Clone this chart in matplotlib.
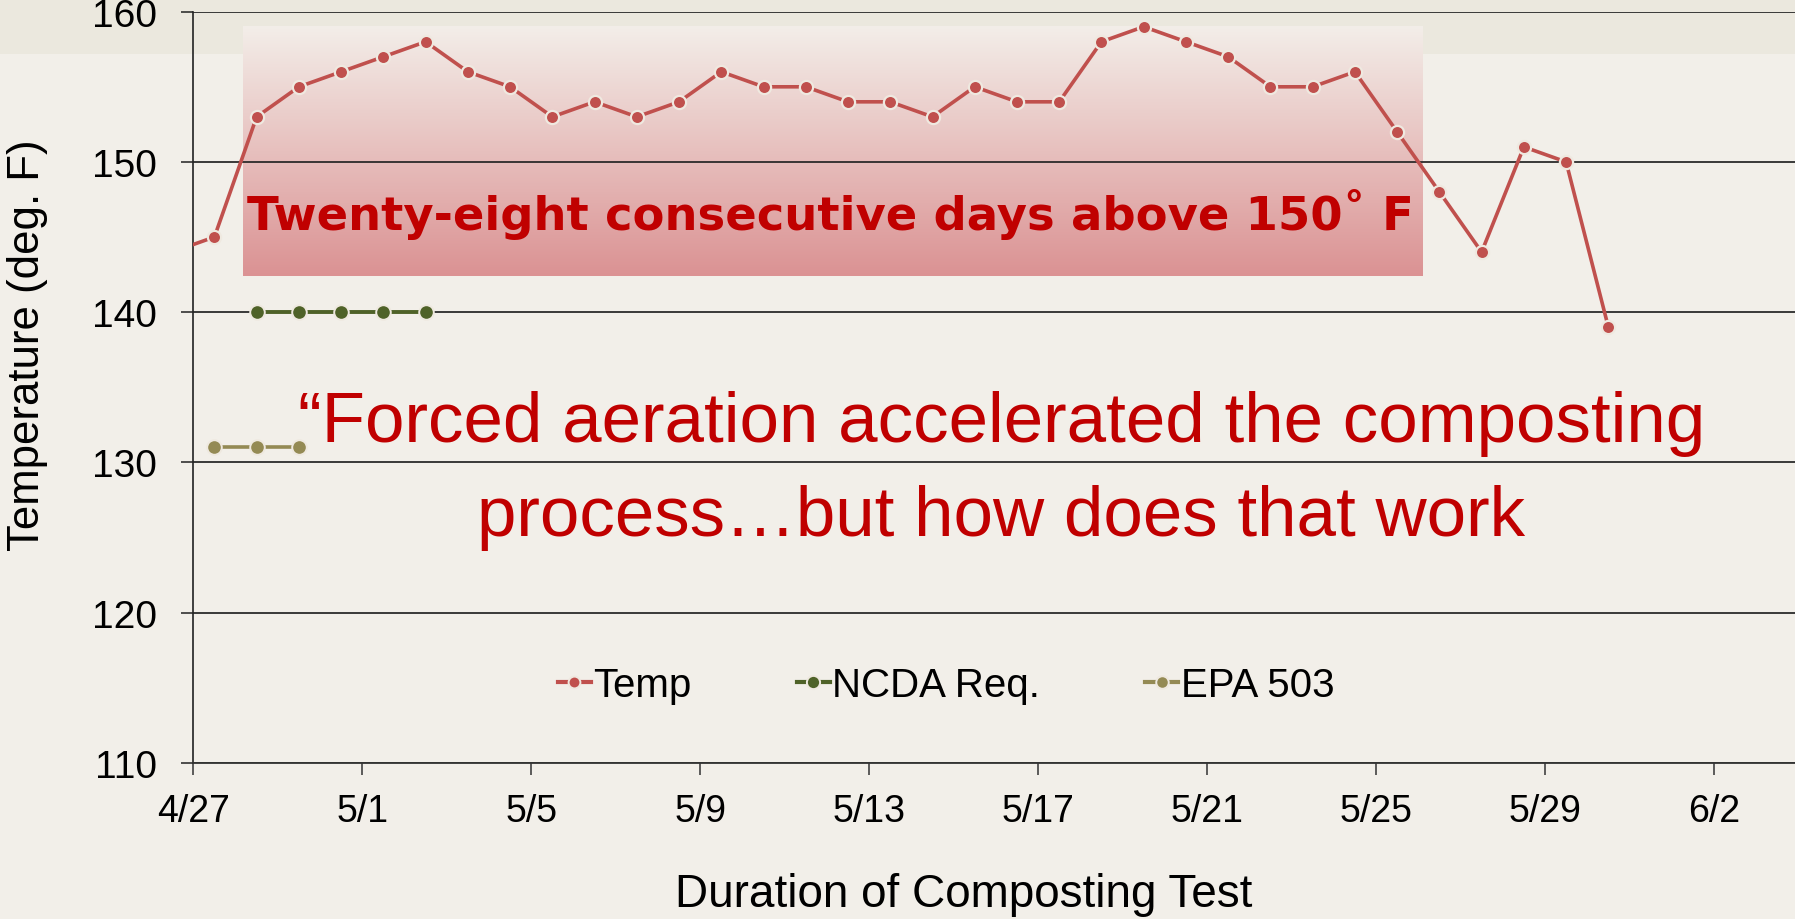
import matplotlib
matplotlib.use('Agg')
import matplotlib.pyplot as plt
from matplotlib.lines import Line2D
from matplotlib.patches import Rectangle
import matplotlib.dates as mdates
import numpy as np
import pandas as pd

# ---------------- data ----------------
temp_start = '2010-04-26'
temp_values = [144, 145, 153, 155, 156, 157, 158, 156, 155, 153, 154, 153, 154,
               156, 155, 155, 154, 154, 153, 155, 154, 154, 158, 159, 158, 157,
               155, 155, 156, 152, 148, 144, 151, 150, 139]
ncda_start = '2010-04-28'
ncda_values = [140, 140, 140, 140, 140]
epa_start = '2010-04-27'
epa_values = [131, 131, 131]
series_names = ['Temp', 'NCDA Req.', 'EPA 503']
tick_labels = ['4/27', '5/1', '5/5', '5/9', '5/13', '5/17', '5/21', '5/25', '5/29', '6/2']
y_ticks = [110, 120, 130, 140, 150, 160]
note1 = 'Twenty-eight consecutive days above 150\u02da F'
note2_line1 = '\u201cForced aeration accelerated the composting'
note2_line2 = 'process\u2026but how does that work'

# ---------------- style ----------------
BG = '#F2EFE9'
BAND = '#EBE8DE'
C_TEMP = '#C0504D'
C_NCDA = '#4F6228'
C_EPA = '#948A54'
C_NOTE = '#C00000'
HALO = '#EFE9E0'
FONT = 'Liberation Sans'

W, H = 1795, 920
fig = plt.figure(figsize=(W / 100, H / 100), dpi=100, facecolor=BG)

# top band
fig.patches.append(Rectangle((0, 1 - 55 / H), 1, 55 / H, transform=fig.transFigure,
                             facecolor=BAND, edgecolor='none', zorder=0.1))

# gradient box behind text
bx0, bx1, by0, by1 = 243, 1423, 27, 277
bax = fig.add_axes([bx0 / W, 1 - by1 / H, (bx1 - bx0) / W, (by1 - by0) / H])
bax.set_zorder(1)
top_c = np.array([243, 238, 233]) / 255
bot_c = np.array([219, 146, 147]) / 255
t = np.linspace(0, 1, 256)[:, None, None]
grad = top_c[None, None, :] * (1 - t) + bot_c[None, None, :] * t
bax.imshow(grad, aspect='auto', extent=[0, 1, 0, 1], origin='upper')
bax.axis('off')

# main axes
left_px, top_px, bot_px = 193.3, 12.7, 763.7
ax = fig.add_axes([left_px / W, 1 - bot_px / H, 1 - left_px / W, (bot_px - top_px) / H])
ax.set_zorder(2)
ax.patch.set_visible(False)

half_day = pd.Timedelta(hours=12)
temp_x = pd.date_range(temp_start, periods=len(temp_values), freq='D') + half_day
ncda_x = pd.date_range(ncda_start, periods=len(ncda_values), freq='D') + half_day
epa_x = pd.date_range(epa_start, periods=len(epa_values), freq='D') + half_day

ax.plot(temp_x, temp_values, color=C_TEMP, lw=2.6, zorder=5, marker='o', markersize=9.5,
        markeredgewidth=1.6, markeredgecolor=HALO)
ax.plot(ncda_x, ncda_values, color=C_NCDA, lw=2.8, zorder=5, marker='o', markersize=10.5,
        markeredgewidth=1.4, markeredgecolor=HALO)
ax.plot(epa_x, epa_values, color=C_EPA, lw=2.6, zorder=5, marker='o', markersize=10.5,
        markeredgewidth=1.4, markeredgecolor=HALO)

x0 = pd.Timestamp('2010-04-27')
ax.set_xlim(mdates.date2num(x0), mdates.date2num(x0) + (W - left_px) / 42.24)
ax.set_ylim(110, 160)

tick_dates = [pd.Timestamp('2010-' + lbl.replace('/', '-')) for lbl in tick_labels]
ax.set_xticks(mdates.date2num(tick_dates))
ax.set_xticklabels(tick_labels, fontsize=27, family=FONT)
ax.set_yticks(y_ticks)
ax.set_yticklabels([str(v) for v in y_ticks], fontsize=28, family=FONT)
ax.tick_params(axis='x', direction='out', length=8.5, width=1.1, color='#333333', pad=13)
ax.tick_params(axis='y', direction='out', length=9, width=1.1, color='#222222', pad=17)

ax.grid(axis='y', color='#2b2b2b', lw=1.3, zorder=1)
for s in ['top', 'right']:
    ax.spines[s].set_visible(False)
ax.spines['left'].set_color('#222222')
ax.spines['left'].set_linewidth(1.2)
ax.spines['bottom'].set_color('#333333')
ax.spines['bottom'].set_linewidth(1.3)

fig.text(28 / W, 1 - 345 / H, 'Temperature (deg. F)', rotation=90, ha='center', va='center',
         fontsize=31.5, family=FONT)
fig.text(964 / W, 1 - 907 / H, 'Duration of Composting Test', ha='center', va='baseline',
         fontsize=33, family=FONT)

# legend
handles = [
    Line2D([], [], color=C_TEMP, lw=3, marker='o', markersize=8.5, markeredgewidth=1.4,
           markeredgecolor=HALO),
    Line2D([], [], color=C_NCDA, lw=3, marker='o', markersize=9.5, markeredgewidth=1.4,
           markeredgecolor=HALO),
    Line2D([], [], color=C_EPA, lw=3, marker='o', markersize=9, markeredgewidth=1.4,
           markeredgecolor=HALO),
]
ax.legend(handles, series_names, loc='center', bbox_to_anchor=(946 / W, 1 - 686 / H),
          bbox_transform=fig.transFigure, ncol=3, frameon=False,
          prop={'family': FONT, 'size': 29}, handlelength=0.83, handletextpad=0.06,
          columnspacing=2.6)

# notes
ax.text(830 / W, 1 - 214 / H, note1, transform=fig.transFigure, ha='center', va='center',
        fontsize=33.5, fontweight='bold', family='DejaVu Sans', color=C_NOTE, zorder=6)
ax.text(1002 / W, 1 - 442 / H, note2_line1, transform=fig.transFigure, ha='center',
        va='baseline', fontsize=51, family=FONT, color=C_NOTE, zorder=6)
ax.text(1001 / W, 1 - 536 / H, note2_line2, transform=fig.transFigure, ha='center',
        va='baseline', fontsize=51, family=FONT, color=C_NOTE, zorder=6)

fig.savefig('out.png', dpi=100, facecolor=BG)
